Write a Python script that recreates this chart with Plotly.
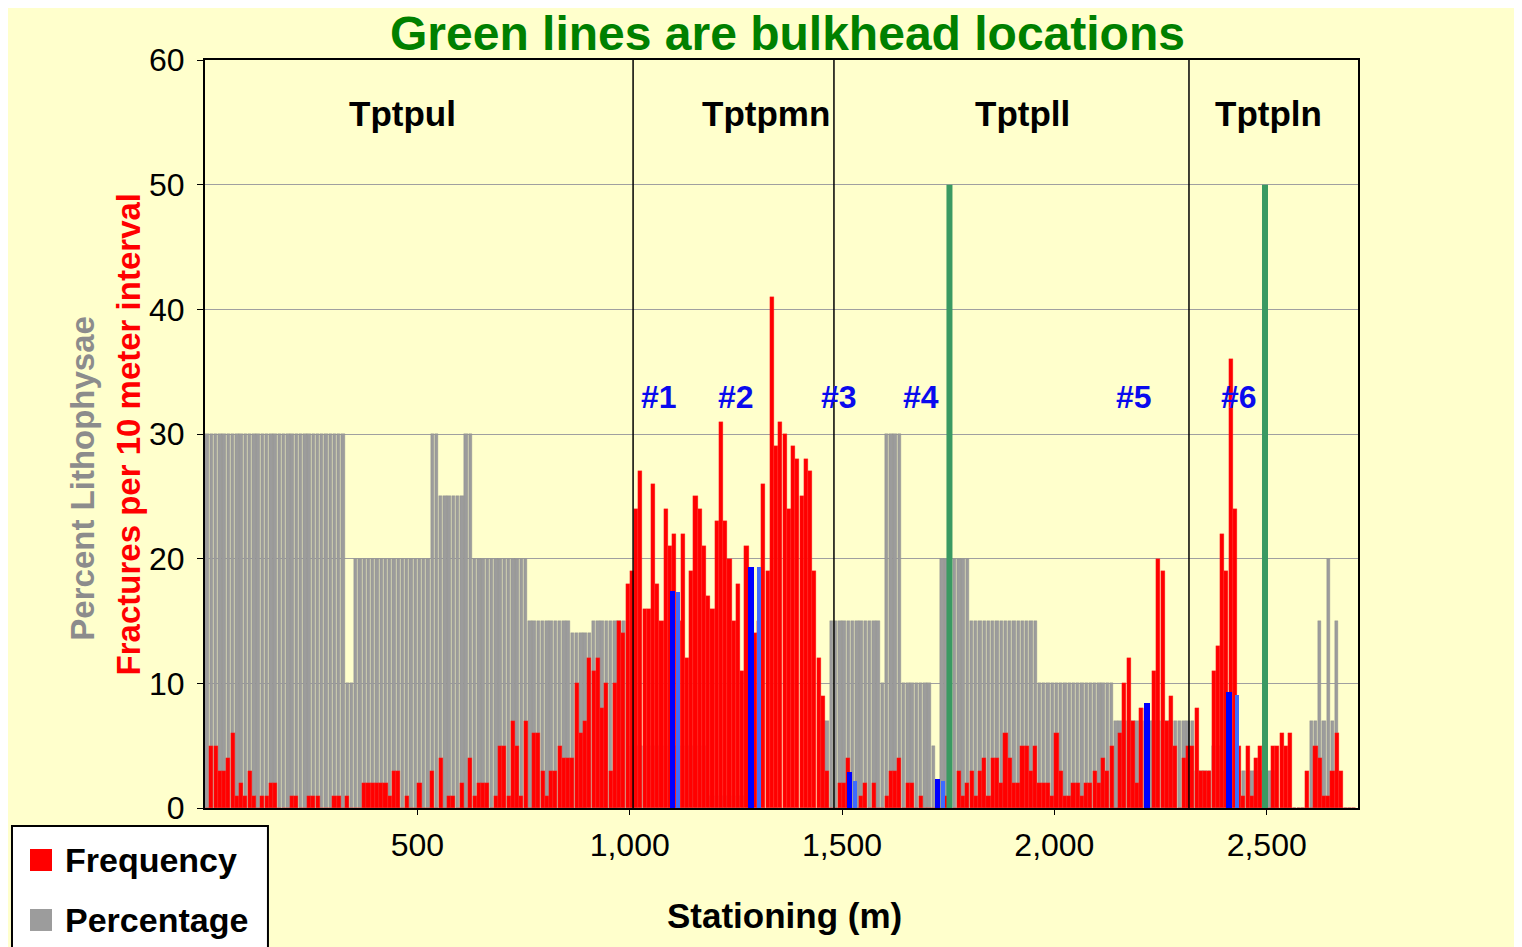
import plotly.graph_objects as go

# 10 m stationing bins (bin centres, m)
stations = list(range(5, 2710, 10))

# Percent lithophysae per 10 m bin (grey bars)
percentage = [
    30, 30, 30, 30, 30, 30, 30, 30, 30, 30,
    30, 30, 30, 30, 30, 30, 30, 30, 30, 30,
    30, 30, 30, 30, 30, 30, 30, 30, 30, 30,
    30, 30, 30, 10, 10, 20, 20, 20, 20, 20,
    20, 20, 20, 20, 20, 20, 20, 20, 20, 20,
    20, 20, 20, 30, 30, 25, 25, 25, 25, 25,
    25, 30, 30, 20, 20, 20, 20, 20, 20, 20,
    20, 20, 20, 20, 20, 20, 15, 15, 15, 15,
    15, 15, 15, 15, 15, 15, 14, 14, 14, 14,
    14, 15, 15, 15, 15, 15, 15, 15, 15, 15,
    5, 5, 5, 5, 5, 5, 5, 5, 5, 5,
    5, 5, 5, 5, 5, 5, 5, 5, 1, 1,
    1, 1, 1, 1, 1, 1, 1, 1, 0, 0,
    0, 0, 0, 0, 0, 0, 0, 0, 0, 0,
    0, 0, 0, 0, 0, 7, 7, 15, 15, 15,
    15, 15, 15, 15, 15, 15, 15, 15, 15, 10,
    30, 30, 30, 30, 10, 10, 10, 10, 10, 10,
    10, 5, 0, 20, 20, 20, 20, 20, 20, 20,
    15, 15, 15, 15, 15, 15, 15, 15, 15, 15,
    15, 15, 15, 15, 15, 15, 10, 10, 10, 10,
    10, 10, 10, 10, 10, 10, 10, 10, 10, 10,
    10, 10, 10, 10, 7, 7, 7, 7, 7, 7,
    7, 7, 7, 7, 7, 7, 7, 7, 7, 7,
    7, 7, 7, 3, 3, 3, 3, 5, 5, 3,
    3, 3, 3, 3, 3, 3, 3, 3, 3, 3,
    3, 3, 0, 0, 0, 0, 0, 0, 0, 0,
    7, 7, 15, 7, 20, 7, 15, 0, 0, 0,
    0,
]

# Fractures per 10 m interval (red bars)
frequency = [
    0, 5, 5, 3, 3, 4, 6, 1, 2, 1,
    3, 1, 0, 1, 1, 2, 2, 0, 0, 0,
    1, 1, 0, 0, 1, 1, 1, 0, 0, 0,
    1, 1, 0, 1, 0, 0, 0, 2, 2, 2,
    2, 2, 2, 1, 3, 3, 0, 1, 0, 0,
    2, 0, 0, 3, 0, 4, 0, 1, 1, 0,
    2, 0, 4, 1, 2, 2, 2, 0, 1, 5,
    5, 1, 7, 5, 1, 7, 0, 6, 6, 3,
    1, 3, 3, 5, 4, 4, 4, 10, 6, 7,
    12, 11, 12, 8, 10, 3, 10, 15, 14, 18,
    19, 24, 27, 16, 16, 26, 18, 15, 24, 21,
    22, 15, 22, 12, 19, 25, 24, 21, 17, 16,
    23, 31, 23, 20, 15, 18, 11, 21, 15, 14,
    15, 26, 19, 41, 29, 31, 30, 24, 29, 28,
    25, 28, 27, 19, 12, 9, 3, 0, 0, 2,
    2, 4, 0, 0, 1, 2, 0, 2, 0, 0,
    1, 3, 3, 4, 0, 2, 2, 0, 1, 0,
    0, 0, 0, 0, 1, 0, 0, 3, 1, 2,
    3, 1, 3, 4, 1, 4, 4, 2, 6, 4,
    2, 2, 5, 5, 3, 5, 2, 2, 2, 1,
    6, 3, 1, 1, 2, 2, 1, 2, 2, 3,
    2, 4, 3, 5, 0, 6, 10, 12, 7, 2,
    8, 8, 0, 11, 20, 19, 7, 9, 5, 0,
    4, 5, 5, 8, 3, 3, 3, 11, 13, 22,
    19, 36, 24, 5, 1, 5, 1, 4, 5, 0,
    0, 5, 5, 6, 5, 6, 0, 0, 0, 3,
    0, 5, 4, 1, 1, 3, 6, 3, 0, 0,
    0,
]

# blue markers for the numbered test locations
marker_dark_x = [1101, 1286, 1518, 1725, 2218, 2411]
marker_dark_y = [17.4, 19.3, 2.9, 2.3, 8.4, 9.3]
marker_light_x = [1114, 1304, 1530, 1738, 2430]
marker_light_y = [17.3, 19.3, 2.2, 2.2, 9.1]
marker_labels = ["#1", "#2", "#3", "#4", "#5", "#6"]
marker_label_x = [1069, 1250, 1493, 1686, 2187, 2435]
marker_label_y = 33

# lithostratigraphic units
unit_names = ["Tptpul", "Tptpmn", "Tptpll", "Tptpln"]
unit_label_x = [466, 1321, 1924, 2505]
unit_boundaries = [1008, 1481, 2317]

# bulkhead locations (green lines)
bulkheads = [1753, 2496]

# legend entries
legend_names = ["Frequency", "Percentage"]
legend_colors = ["#FF0000", "#9C9C9C"]

FONT = "Liberation Sans, Arial, sans-serif"
BG = "#FFFFCC"

fig = go.Figure()

fig.add_trace(go.Bar(
    x=stations, y=percentage, width=8, name="Percentage",
    marker=dict(color="#9C9C9C", line=dict(color="#8A8A8A", width=0.4)),
    opacity=1,
))
fig.add_trace(go.Bar(
    x=stations, y=frequency, width=9.6, name="Frequency",
    marker=dict(color="#FF0000", line=dict(color="#FF3030", width=0.3)),
    opacity=1,
))
fig.add_trace(go.Bar(
    x=marker_light_x, y=marker_light_y, width=9,
    marker=dict(color="#3D6BFF", line=dict(width=0)), opacity=1,
))
fig.add_trace(go.Bar(
    x=marker_dark_x, y=marker_dark_y, width=13,
    marker=dict(color="#0000FF", line=dict(width=0)), opacity=1,
))

for xb in unit_boundaries:
    fig.add_shape(type="line", x0=xb, x1=xb, y0=0, y1=60, xref="x", yref="y",
                  line=dict(color="black", width=1.5))
for xb in bulkheads:
    fig.add_shape(type="line", x0=xb, x1=xb, y0=0, y1=50, xref="x", yref="y",
                  line=dict(color="#3A9A62", width=6))

for name, xu in zip(unit_names, unit_label_x):
    fig.add_annotation(x=xu, y=55.7, text=f"<b>{name}</b>", showarrow=False,
                       font=dict(family=FONT, size=35, color="black"))
for lab, xm in zip(marker_labels, marker_label_x):
    fig.add_annotation(x=xm, y=marker_label_y, text=f"<b>{lab}</b>", showarrow=False,
                       font=dict(family=FONT, size=32, color="#0A0AEE"))

# title and axis titles
fig.add_annotation(x=0.505, y=1.036, xref="paper", yref="paper",
                   text="<b>Green lines are bulkhead locations</b>", showarrow=False,
                   yanchor="middle", font=dict(family=FONT, size=48, color="#008000"))
fig.add_annotation(x=0.503, y=-0.144, xref="paper", yref="paper",
                   text="<b>Stationing (m)</b>", showarrow=False, yanchor="middle",
                   font=dict(family=FONT, size=35, color="black"))
fig.add_annotation(x=-0.124, y=0.441, xref="paper", yref="paper", textangle=-90,
                   text="<b>Percent Lithophysae</b>", showarrow=False,
                   font=dict(family=FONT, size=33, color="#8C8C8C"))
fig.add_annotation(x=-0.084, y=0.499, xref="paper", yref="paper", textangle=-90,
                   text="<b>Fractures per 10 meter interval</b>", showarrow=False,
                   font=dict(family=FONT, size=33, color="#FF0000"))

# legend box drawn by hand (it runs off the bottom of the page like the original)
fig.add_shape(type="rect", xref="paper", yref="paper",
              x0=-0.1674, x1=0.0546, y0=-0.0241, y1=-0.21,
              fillcolor="white", line=dict(color="black", width=2), layer="above")
legend_y = [-0.0695, -0.1497]
for name, col, ly in zip(legend_names, legend_colors, legend_y):
    fig.add_shape(type="rect", xref="paper", yref="paper",
                  x0=-0.1518, x1=-0.1327, y0=ly + 0.0147, y1=ly - 0.0147,
                  fillcolor=col, line=dict(width=0), layer="above")
    fig.add_annotation(x=-0.1232, y=ly, xref="paper", yref="paper",
                       text=f"<b>{name}</b>", showarrow=False,
                       xanchor="left", yanchor="middle",
                       font=dict(family=FONT, size=34, color="black"))

fig.update_layout(
    width=1514, height=939,
    margin=dict(l=197, r=164, t=52, b=139),
    paper_bgcolor=BG, plot_bgcolor=BG,
    barmode="overlay", bargap=0, showlegend=False,
    font=dict(family=FONT, size=32, color="black"),
)
fig.update_xaxes(
    range=[0, 2715], tickvals=[500, 1000, 1500, 2000, 2500], tickformat=",",
    showgrid=False, showline=True, linecolor="black", linewidth=2, mirror=True,
    ticks="outside", ticklen=5, tickcolor="black", ticklabelstandoff=3,
    zeroline=False,
)
fig.update_yaxes(
    range=[0, 60], dtick=10, showgrid=True, gridcolor="#A0A0A0", gridwidth=1,
    showline=True, linecolor="black", linewidth=2, mirror=True,
    ticks="outside", ticklen=6, tickcolor="black", ticklabelstandoff=6,
    zeroline=False,
)

fig.write_html("out.html")
